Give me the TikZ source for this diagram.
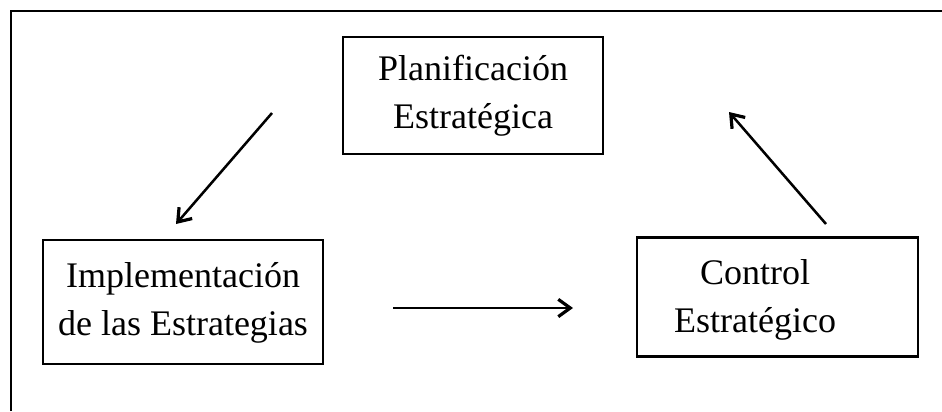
\documentclass[tikz,border=0pt]{standalone}
\usepackage{fontspec}
\setmainfont{Liberation Serif}
\usetikzlibrary{arrows.meta}
\begin{document}
\begin{tikzpicture}[x=0.75pt,y=-0.75pt,
  box/.style={draw,line width=2.2pt,rectangle,inner sep=0pt},
  lbl/.style={align=center,font=\fontsize{27}{36}\selectfont},
  conn/.style={line width=1.9pt,-{Straight Barb[length=9pt,width=13pt,line width=2.4pt]}}]
\useasboundingbox (0,0) rectangle (942,411);
\draw[line width=2pt] (11,411) -- (11,11) -- (945,11);
\node[box,minimum width=260*0.75pt,minimum height=117*0.75pt] (plan) at (473,95.5) {};
\node[lbl] (plant) at (473,96) {Planificación\\Estratégica};
\node[box,minimum width=280*0.75pt,minimum height=124*0.75pt] (impl) at (183,302) {};
\node[lbl] (implt) at (183,303) {Implementación\\de las Estrategias};
\node[box,minimum width=281*0.75pt,minimum height=119*0.75pt] (ctrl) at (777.5,297) {};
\node[lbl] (ctrlt) at (755,300) {Control\\Estratégico};
\coordinate (a1) at (272,113); \coordinate (b1) at (176,224);
\coordinate (a2) at (826,224); \coordinate (b2) at (729,112);
\coordinate (a3) at (393,308); \coordinate (b3) at (573,308);
\draw[conn] (a1) -- (b1);
\draw[conn] (a2) -- (b2);
\draw[conn] (a3) -- (b3);
\end{tikzpicture}
\end{document}
